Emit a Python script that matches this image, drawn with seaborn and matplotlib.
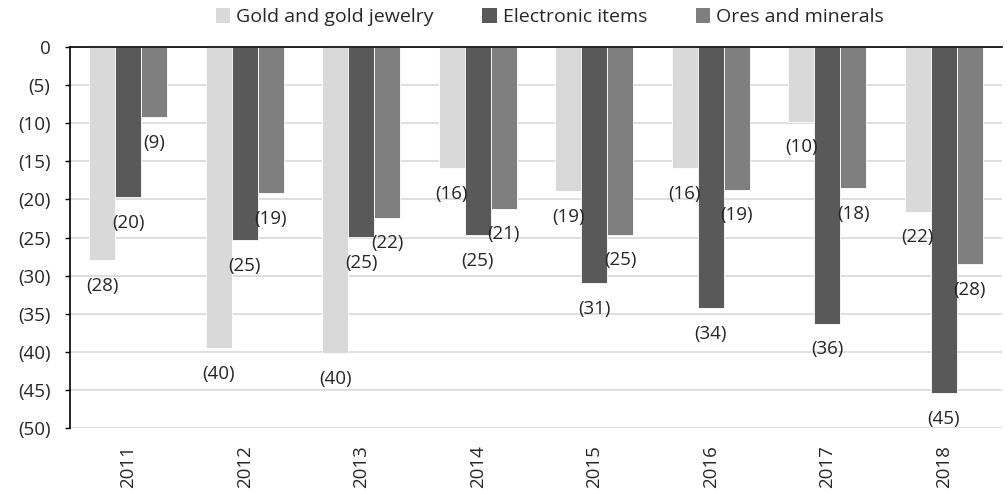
import matplotlib
matplotlib.use("Agg")
import matplotlib.pyplot as plt
import seaborn as sns
import pandas as pd
from matplotlib.patches import Patch

years = ["2011", "2012", "2013", "2014", "2015", "2016", "2017", "2018"]
series_names = ["Gold and gold jewelry", "Electronic items", "Ores and minerals"]
gold = [-28.0, -39.5, -40.2, -15.9, -18.9, -15.9, -9.8, -21.6]
electronic = [-19.7, -25.3, -24.9, -24.7, -31.0, -34.3, -36.3, -45.4]
ores = [-9.2, -19.2, -22.4, -21.2, -24.6, -18.7, -18.5, -28.5]
y_ticks = [0, -5, -10, -15, -20, -25, -30, -35, -40, -45, -50]

colors = ["#d9d9d9", "#595959", "#7f7f7f"]

df = pd.DataFrame({
    "year": years * 3,
    "series": [s for s in series_names for _ in years],
    "value": gold + electronic + ores,
})

sns.set_theme(style="white")
plt.rcParams["font.family"] = ["Open Sans", "DejaVu Sans"]
text_color = "#262626"
fs = 13.5

fig = plt.figure(figsize=(10.07, 4.95), dpi=100)
ax = fig.add_axes([0.0695, 0.135, 0.9255, 0.77])

sns.barplot(data=df, x="year", y="value", hue="series", order=years,
            hue_order=series_names, palette=colors, width=0.67, gap=0,
            edgecolor="white", linewidth=0.6, legend=False, ax=ax)

ax.set_ylim(-50, 0)
ax.set_xlim(-0.5, len(years) - 0.5)
ax.set_yticks(y_ticks)
ax.set_yticklabels(["0" if v == 0 else f"({abs(v)})" for v in y_ticks],
                   fontsize=fs, color=text_color)
ax.yaxis.grid(True, color="#d9d9d9", linewidth=1.2)
ax.set_axisbelow(True)
ax.tick_params(axis="y", which="major", left=True, length=3.6, width=1,
               color="black", pad=10.5)
ax.tick_params(axis="x", bottom=False, pad=6)
for lbl in ax.get_xticklabels():
    lbl.set_rotation(90)
    lbl.set_fontsize(fs)
    lbl.set_color(text_color)
ax.set_xlabel("")
ax.set_ylabel("")

for side in ["right", "bottom"]:
    ax.spines[side].set_visible(False)
for side in ["left", "top"]:
    ax.spines[side].set_color("black")
    ax.spines[side].set_linewidth(1.2)

# value labels below each bar end
for container in ax.containers:
    for bar in container:
        h = bar.get_height()
        ax.annotate(f"({abs(h):.0f})",
                    xy=(bar.get_x() + bar.get_width() / 2, h),
                    xytext=(0, -18.5), textcoords="offset points",
                    ha="center", va="center", fontsize=fs,
                    color=text_color, annotation_clip=False)

handles = [Patch(facecolor=c, edgecolor="none") for c in colors]
fig.legend(handles, series_names, loc="center", bbox_to_anchor=(0.546, 0.965),
           ncol=3, frameon=False, fontsize=14, handlelength=0.75,
           handleheight=0.75, handletextpad=0.3, columnspacing=2.5,
           labelcolor=text_color)

fig.savefig("out.png", dpi=100)
